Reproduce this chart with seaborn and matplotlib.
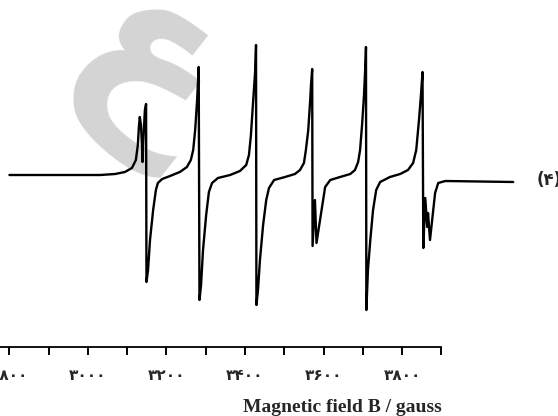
import matplotlib
matplotlib.use("Agg")
import matplotlib.pyplot as plt
import seaborn as sns
import pandas as pd

# Magnetic field (gauss) and EPR derivative intensity (arb. units)
field = [2800, 3031, 3069, 3094, 3112, 3122, 3127, 3130, 3132, 3135, 3138, 3139, 3141, 3145, 3148,
         3149, 3153, 3158, 3166, 3173, 3178, 3189, 3209, 3234, 3252, 3262, 3268, 3273, 3278, 3282,
         3284, 3288, 3293, 3301, 3308, 3316, 3331, 3362, 3387, 3403, 3410, 3415, 3420, 3426, 3428,
         3429, 3433, 3438, 3446, 3454, 3461, 3474, 3502, 3527, 3540, 3550, 3555, 3561, 3566, 3568, 3571,
         3572, 3578, 3582, 3591, 3604, 3617, 3642, 3668, 3680, 3688, 3693, 3698, 3703, 3707, 3708,
         3709, 3713, 3719, 3726, 3734, 3744, 3769, 3795, 3815, 3828, 3836, 3843, 3848, 3852,
         3854, 3859, 3864, 3866, 3871, 3876, 3884, 3892, 3910, 4083]
intensity = [0, 0, 1, 3, 7, 15, 30, 50, 58, 50, 25, 13, 35, 65, 71,
             -107, -95, -65, -35, -15, -8, -4, -1, 3, 8, 15, 25, 45, 75, 108,
             -125, -110, -75, -40, -17, -8, -3, 0, 4, 10, 20, 40, 70, 105, 130,
             -130, -115, -85, -50, -25, -13, -5, -2, 1, 5, 12, 25, 45, 75, 90, 106,
             -71, -25, -68, -45, -12, -5, -2, 1, 5, 13, 25, 50, 80, 115, 128,
             -135, -95, -65, -35, -15, -7, -2, 1, 5, 12, 25, 55, 80, 103,
             -73, -23, -52, -38, -65, -47, -18, -8, -6, -7]

tick_values = [2800, 3000, 3200, 3400, 3600, 3800]
tick_labels = ["۲۸۰۰", "۳۰۰۰", "۳۲۰۰", "۳۴۰۰", "۳۶۰۰", "۳۸۰۰"]
minor_values = [2900, 3100, 3300, 3500, 3700, 3900]
xlabel_text = "Magnetic field B / gauss"
panel_label = "(۴)"
watermark = "ع"

df = pd.DataFrame({"field": field, "intensity": intensity})

sns.set_style("white")
W, H = 558, 416
fig = plt.figure(figsize=(W / 100, H / 100), dpi=100)
ax = fig.add_axes([0, 69 / H, 1, 347 / H])
ax.set_facecolor("none")

# watermark (behind the spectrum)
fig.text(148 / W, 1 - 75 / H, watermark, fontsize=145, fontweight="bold",
         color="#d4d4d4", rotation=-38, ha="center", va="center", zorder=-1,
         family=["DejaVu Sans"])

sns.lineplot(data=df, x="field", y="intensity", sort=False, estimator=None,
             color="black", lw=1.7, ax=ax)

ax.set_xlim(2776, 4197)
ax.set_ylim(-172, 175)
for s in ["left", "top", "right"]:
    ax.spines[s].set_visible(False)
ax.spines["bottom"].set_bounds(2776, 3900)
ax.spines["bottom"].set_linewidth(1.3)
ax.spines["bottom"].set_color("black")
ax.set_yticks([])
ax.set_xticks(tick_values)
ax.set_xticklabels(tick_labels, fontsize=11, fontweight="bold", family=["DejaVu Sans"])
ax.set_xticks(minor_values, minor=True)
ax.tick_params(axis="x", which="both", direction="out", length=6, width=1.4,
               color="black", pad=9, bottom=True)
ax.set_xlabel("")
ax.set_ylabel("")

fig.text(442 / W, 1 - 407 / H, xlabel_text, ha="right", va="center",
         fontsize=14, fontweight="bold", family=["Liberation Serif"])
fig.text(537 / W, 1 - 180 / H, panel_label, ha="left", va="center",
         fontsize=12, fontweight="bold", family=["DejaVu Sans"])

fig.savefig("out.png", dpi=100, facecolor="white")
